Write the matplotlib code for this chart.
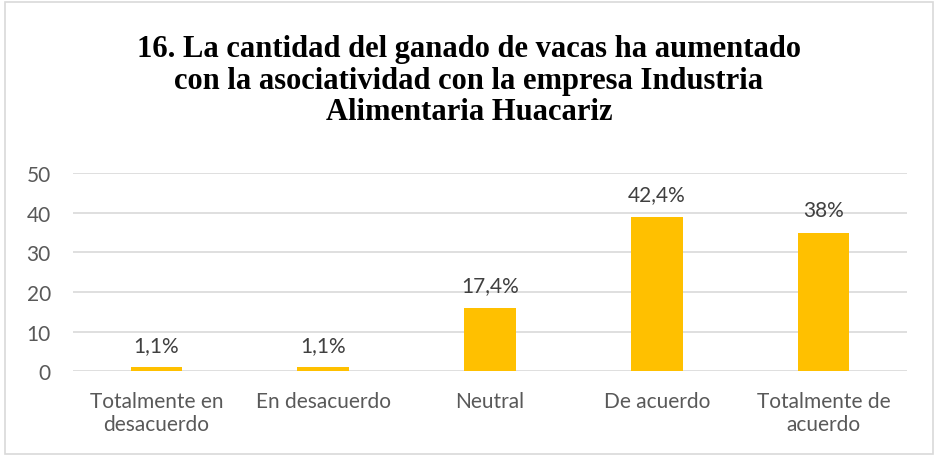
import matplotlib
matplotlib.use("Agg")
import matplotlib.pyplot as plt
from matplotlib.patches import Rectangle

categories = ["Totalmente en\ndesacuerdo", "En desacuerdo", "Neutral", "De acuerdo", "Totalmente de\nacuerdo"]
values = [1, 1, 16, 39, 35]
labels = ["1,1%", "1,1%", "17,4%", "42,4%", "38%"]
yticks = [0, 10, 20, 30, 40, 50]
title = "16. La cantidad del ganado de vacas ha aumentado\ncon la asociatividad con la empresa Industria\nAlimentaria Huacariz"

fig = plt.figure(figsize=(9.38, 4.56), dpi=100)
fig.patches.append(Rectangle((0.005, 0.003), 0.99, 0.99, transform=fig.transFigure,
                             fill=False, edgecolor="#d9d9d9", linewidth=1.2))
ax = fig.add_axes([0.0778, 0.184, 0.889, 0.434])

x = range(len(categories))
ax.bar(x, values, width=0.31, color="#FFC000", zorder=3)
ax.set_ylim(0, 50)
ax.set_xlim(-0.5, len(categories) - 0.5)
ax.set_yticks(yticks)
ax.yaxis.grid(True, color="#d9d9d9", linewidth=1.2, zorder=0)
ax.set_xticks(list(x))
ax.set_xticklabels(categories, fontsize=15, color="#595959", family="Lato", linespacing=1.22)
for lab in ax.get_yticklabels():
    lab.set_fontsize(15)
    lab.set_color("#595959")
    lab.set_family("Lato")
ax.tick_params(axis="both", length=0)
ax.tick_params(axis="y", pad=16)
ax.tick_params(axis="x", pad=14)
for s in ax.spines.values():
    s.set_visible(False)

for xi, v, l in zip(x, values, labels):
    ax.annotate(l, (xi, v), xytext=(0, 9), textcoords="offset points",
                ha="center", va="bottom", fontsize=15, color="#404040", family="Lato")

fig.text(0.5, 0.822, title, ha="center", va="center", fontsize=22, fontweight="bold",
         family="Liberation Serif", linespacing=1.1, color="black")

fig.savefig("out.png", dpi=100)
